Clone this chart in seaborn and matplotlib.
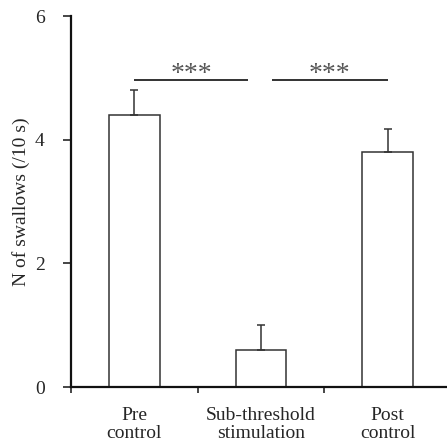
import numpy as np
import matplotlib
matplotlib.use("Agg")
import matplotlib.pyplot as plt
import seaborn as sns

# data
categories = ["Pre\ncontrol", "Sub-threshold\nstimulation", "Post\ncontrol"]
means = [4.4, 0.6, 3.8]
sem = [0.4, 0.4, 0.38]
# significance bars: (x start, x end, height, label)
sig_x0 = [0.0, 1.09]
sig_x1 = [0.9, 2.0]
sig_y = [4.97, 4.97]
sig_txt = ["***", "***"]

sns.set_theme(style="ticks")
plt.rcParams['font.family'] = ['Liberation Serif', 'DejaVu Serif']

fig = plt.figure(figsize=(4.47, 4.46), dpi=100)
ax = fig.add_axes([0.159, 0.132, 0.841, 0.832])

sns.barplot(x=categories, y=means, color="white", edgecolor="#333333",
            linewidth=1.1, width=0.4, ax=ax)
ax.errorbar(range(len(means)), means, yerr=[np.zeros(len(sem)), sem],
            fmt="none", ecolor="#333333", elinewidth=1.1, capsize=3, capthick=1.1)

for x0, x1, y, t in zip(sig_x0, sig_x1, sig_y, sig_txt):
    ax.plot([x0, x1], [y, y], color="#222222", lw=1.3, solid_capstyle="butt")
    ax.text((x0 + x1) / 2, y - 0.02, t, ha="center", va="baseline",
            fontsize=20, color="#555555")

ax.set_ylim(0, 6)
ax.set_xlim(-0.5, 2.47)
ax.set_yticks([0, 2, 4, 6])
ax.set_xticks([-0.5, 0.5, 1.5])
ax.set_xticklabels([])
ax.set_xticks([0, 1, 2], labels=categories, minor=True)
for lab in ax.get_xticklabels(minor=True):
    lab.set_linespacing(1.1)
ax.tick_params(axis="x", which="minor", length=0, pad=14, labelsize=14)
ax.tick_params(axis="x", which="major", length=4, width=1.2, direction="out")
ax.tick_params(axis="y", length=6, width=1.2, labelsize=14, pad=13)
ax.set_ylabel("N of swallows (/10 s)", fontsize=14)
ax.yaxis.set_label_coords(-0.108, 0.5)
ax.set_xlabel("")
for s in ["top", "right"]:
    ax.spines[s].set_visible(False)
for s in ["left", "bottom"]:
    ax.spines[s].set_linewidth(1.6)
    ax.spines[s].set_color("#111111")

fig.savefig("out.png", dpi=100)
